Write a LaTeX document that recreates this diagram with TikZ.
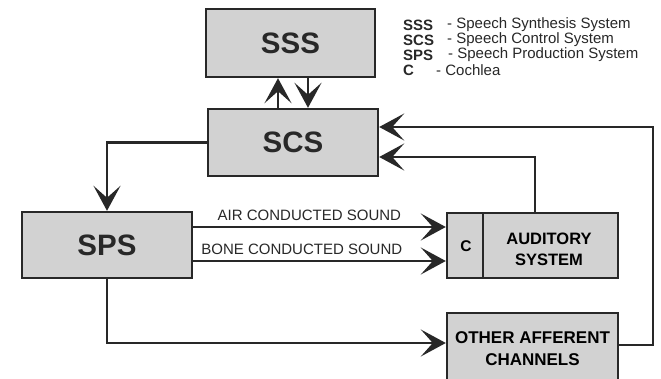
\documentclass[tikz,border=0pt]{standalone}
\usepackage{fontspec}
\setmainfont{Liberation Sans}
\usetikzlibrary{arrows.meta}
\definecolor{boxfill}{RGB}{210,210,210}
\definecolor{ink}{RGB}{40,40,40}
\tikzset{
  blk/.style={draw=ink, line width=2.4pt, fill=boxfill, minimum width=170pt, minimum height=67pt, inner sep=0pt, text=ink},
  big/.style={font=\fontsize{29.5}{29}\selectfont\bfseries},
  mid/.style={font=\fontsize{15.5}{20}\selectfont\bfseries, align=center},
  con/.style={draw=ink, line width=2.3pt},
  arr/.style={con, -{Stealth[length=25pt, width=27pt, inset=12pt]}},
  lbl/.style={font=\fontsize{15}{16}\selectfont, text=ink, inner sep=0pt},
  leg/.style={font=\fontsize{15}{16}\selectfont, text=ink, inner sep=0pt, anchor=west},
  legb/.style={leg, font=\fontsize{15}{16}\selectfont\bfseries},
}
\begin{document}
\begin{tikzpicture}[x=1pt, y=-1pt]
\clip (0,0) rectangle (661,379);
\fill[white] (0,0) rectangle (661,379);

% boxes
\node[blk, big, minimum width=169pt, minimum height=68pt] (sss) at (290.5,43) {SSS};
\node[blk, big] (scs) at (293,142.5) {SCS};
\node[blk, big, minimum height=66pt] (sps) at (107,245) {SPS};
\node[blk, minimum width=171pt, minimum height=65pt] (aud) at (532.5,245.5) {};
\draw[ink, line width=2.4pt] (483,213) coordinate (cdivt) -- (483,278) coordinate (cdivb);
\node[mid] (ctext) at (466,246) {C};
\node[mid, font=\fontsize{16.5}{21}\selectfont\bfseries] (audtext) at (549,249) {AUDITORY\\SYSTEM};
\node[blk, minimum width=171pt, minimum height=70pt] (oth) at (532.5,348) {};
\node[mid, font=\fontsize{17}{22}\selectfont\bfseries] (othtext) at (532.5,349) {OTHER AFFERENT\\CHANNELS};

% legend
\node[legb] (l1a) at (403,25) {SSS};
\node[leg] (l1b) at (447,25) {- Speech Synthesis System};
\node[legb] (l2a) at (403,40) {SCS};
\node[leg] (l2b) at (447,40) {- Speech Control System};
\node[legb] (l3a) at (403,55) {SPS};
\node[leg] (l3b) at (448,55) {- Speech Production System};
\node[legb] (l4a) at (403,70) {C};
\node[leg] (l4b) at (436,70) {- Cochlea};

% SSS <-> SCS
\draw[arr] ([xshift=-15pt]scs.north) -- ([xshift=-15pt]scs.north |- sss.south);
\draw[arr] ([xshift=15pt]scs.north |- sss.south) -- ([xshift=15pt]scs.north);

% SCS -> SPS
\draw[arr] (scs.west) -| (sps.north);

% sounds
\draw[arr] ([yshift=18pt]sps.east) -- ([yshift=18pt]sps.east -| aud.west)
  node[lbl, pos=0.46, above=5pt] (air) {AIR CONDUCTED SOUND};
\draw[arr] ([yshift=-16pt]sps.east) -- ([yshift=-16pt]sps.east -| aud.west)
  node[lbl, pos=0.43, above=5pt] (bone) {BONE CONDUCTED SOUND};

% SPS -> other afferent
\draw[arr] (sps.south) |- ([yshift=5pt]oth.west);

% auditory -> SCS
\coordinate (audtop) at ([xshift=2.5pt]aud.north);
\draw[arr] (audtop) |- ([yshift=-14.5pt]scs.east);

% other -> SCS
\coordinate (rc) at (653,0);
\draw[arr] ([yshift=3pt]oth.east) -| ([yshift=15.5pt]scs.east -| rc) -- ([yshift=15.5pt]scs.east);
\end{tikzpicture}
\end{document}
